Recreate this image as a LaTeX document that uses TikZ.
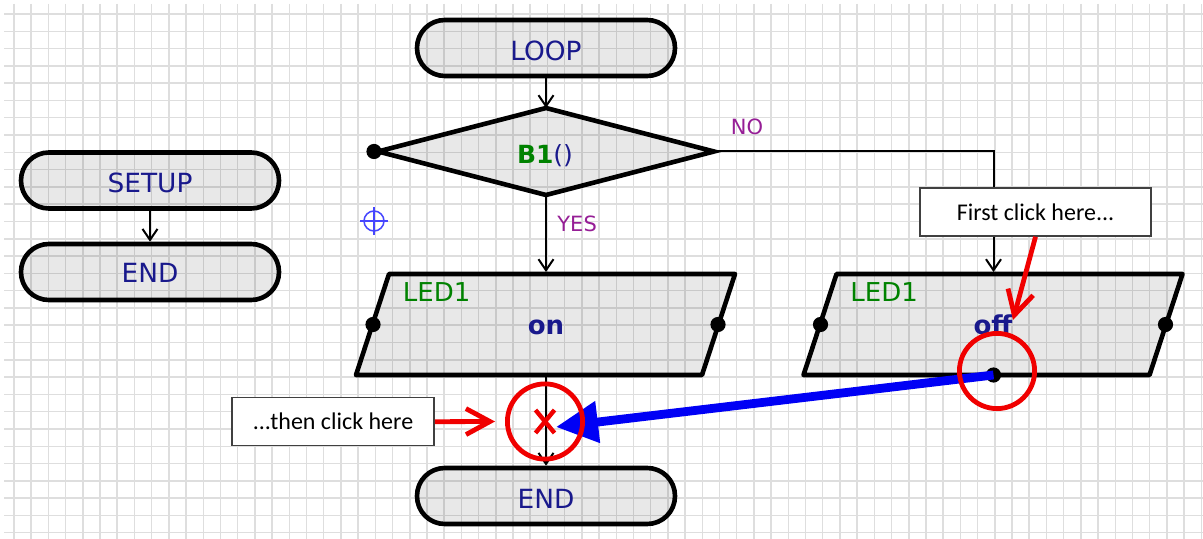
\documentclass[tikz,border=0pt]{standalone}
\usepackage{fontspec}
\setmainfont{DejaVu Sans}
\newfontfamily\calib{Carlito}
\usetikzlibrary{arrows.meta,shapes.geometric,calc}
\definecolor{navy}{RGB}{25,25,140}
\definecolor{greenc}{RGB}{0,130,0}
\definecolor{purplec}{RGB}{150,30,150}
\definecolor{gridc}{RGB}{222,222,222}
\definecolor{redc}{RGB}{240,0,0}
\definecolor{bluec}{RGB}{0,0,245}
\definecolor{crossc}{RGB}{70,70,255}
\newcommand\fsz[1]{\fontsize{#1}{#1}\selectfont}
\begin{document}
\begin{tikzpicture}[x=0.5pt,y=-0.5pt,
  gridline/.style={draw=gridc,line width=0.75pt},
  term/.style={draw=black,line width=2.3pt,fill=black,fill opacity=0.09,rounded corners=13.9pt,minimum width=129pt,minimum height=28pt,inner sep=0pt},
  termtext/.style={anchor=base,text=navy,font=\fsz{13.2},inner sep=0pt},
  decision/.style={shape=diamond,draw=black,line width=2.3pt,fill=black,fill opacity=0.09,minimum width=168pt,minimum height=43.5pt,inner sep=0pt,outer sep=0pt},
  anchorbox/.style={minimum width=172.5pt,minimum height=50.5pt,inner sep=0pt,outer sep=1pt},
  iopath/.style={draw=black,line width=2.3pt,fill=black,fill opacity=0.09,line join=round},
  ledtext/.style={anchor=base west,text=greenc,font=\fsz{13},inner sep=0pt},
  valtext/.style={anchor=base,text=navy,font=\bfseries\fsz{13},inner sep=0pt},
  branchtext/.style={text=purplec,font=\fsz{10.5},inner sep=0pt},
  flow/.style={draw=black,line width=1pt,-{Straight Barb[length=5.5pt,width=7.5pt]}},
  portdot/.style={fill=black},
  redarrow/.style={draw=redc,line width=2.4pt,-{Straight Barb[length=12pt,width=13pt]}},
  bluearrow/.style={draw=bluec,line width=4.4pt,-{Triangle[length=21pt,width=20pt]}},
  ring/.style={circle,draw=redc,line width=2.4pt,minimum size=37.6pt,inner sep=0pt},
  callout/.style={draw=black!75,line width=0.75pt,fill=white,minimum width=101pt,minimum height=24pt,inner sep=0pt,font=\calib\fsz{12}}
]
\useasboundingbox (0,0) rectangle (1203,539);
\fill[white] (0,0) rectangle (1203,539);
% grid
\foreach \i in {0,...,69} \draw[gridline] ({14+17.207*\i},4) -- ({14+17.207*\i},539);
\foreach \j in {0,...,30} \draw[gridline] (4,{14+17.29*\j}) -- (1203,{14+17.29*\j});

% terminals
\node[term] (setup) at (150,180.5) {};
\node[term] (send) at (150,272) {};
\node[term] (loop) at (546,48) {};
\node[term] (lend) at (546,496) {};
\node[termtext] (setupt) at (150,192.7) {SETUP};
\node[termtext] (sendt) at (150,282.3) {END};
\node[termtext] (loopt) at (546,61) {LOOP};
\node[termtext] (lendt) at (546,508.3) {END};

% decision
\node[decision] (dia) at (546,151.5) {};
\node[anchor=base,inner sep=0pt,text=navy,font=\fsz{12.5}] (diat) at (545,164) {{\color{greenc}\bfseries B1}()};
\fill[portdot] ($(dia.west)+(-4,0)$) circle (3.8pt);

% io boxes
\node[anchorbox] (on) at (546,324.5) {};
\node[anchorbox] (off) at (993.5,324.5) {};
\draw[iopath] ($(on.center)+(-157,-50.5)$) -- ++(346,0) -- ++(-33,101) -- ++(-346,0) -- cycle;
\draw[iopath] ($(off.center)+(-157,-50.5)$) -- ++(346,0) -- ++(-33,101) -- ++(-346,0) -- cycle;
\fill[portdot] ($(on.center)+(-173,0)$) circle (3.8pt);
\fill[portdot] ($(on.center)+(172,0)$) circle (3.8pt);
\fill[portdot] ($(off.center)+(-173,0)$) circle (3.8pt);
\fill[portdot] ($(off.center)+(172,0)$) circle (3.8pt);
\coordinate (offB) at ($(off.center)+(0,50.5)$);
\fill[portdot] (offB) circle (3.8pt);
\node[ledtext] (onled) at (402.5,301.5) {LED1};
\node[ledtext] (offled) at (850,301.5) {LED1};
\node[valtext] (onv) at (546,335) {on};
\node[valtext] (offv) at (993,335) {off};

% connectors
\draw[flow] (setup) -- (send);
\draw[flow] (loop) -- (dia);
\draw[flow] (dia.south) -- (on.north);
\draw[flow] (dia.east) -| (off.north);
\draw[flow] (on.south) -- (lend.north);
\node[branchtext,anchor=base] (no) at (747,135) {NO};
\node[branchtext,anchor=base west] (yes) at (557,231.5) {YES};

% crosshair
\node[circle,draw=crossc,line width=0.75pt,minimum size=10pt,inner sep=0pt] (cross) at (374,221) {};
\draw[crossc,line width=0.75pt] ($(cross.center)+(-14,0)$) -- ($(cross.center)+(14,0)$);
\draw[crossc,line width=0.75pt] ($(cross.center)+(0,-14)$) -- ($(cross.center)+(0,14)$);

% drop marker
\coordinate (xt) at (545,421.5);
\draw[redc,line width=2.2pt] ($(xt)+(-9.5,-11.5)$) -- ($(xt)+(9.5,11.5)$);
\draw[redc,line width=2.2pt] ($(xt)+(9.5,-11.5)$) -- ($(xt)+(-9.5,11.5)$);

% blue drag arrow
\coordinate (xtip) at (556,427);
\draw[bluearrow] (offB) -- (xtip);

% annotations
\node[ring] (r1) at (545,421.5) {};
\node[ring] (r2) at (997,371) {};
\node[callout] (t1) at (333,421.7) {...then click here};
\node[callout,minimum width=115.5pt] (t2) at (1035.5,212) {First click here...};
\coordinate (offtip) at (1013,320);
\draw[redarrow] (t1.east) -- ([xshift=-5pt]r1.west);
\draw[redarrow] (t2.south) -- (offtip);
\end{tikzpicture}
\end{document}
